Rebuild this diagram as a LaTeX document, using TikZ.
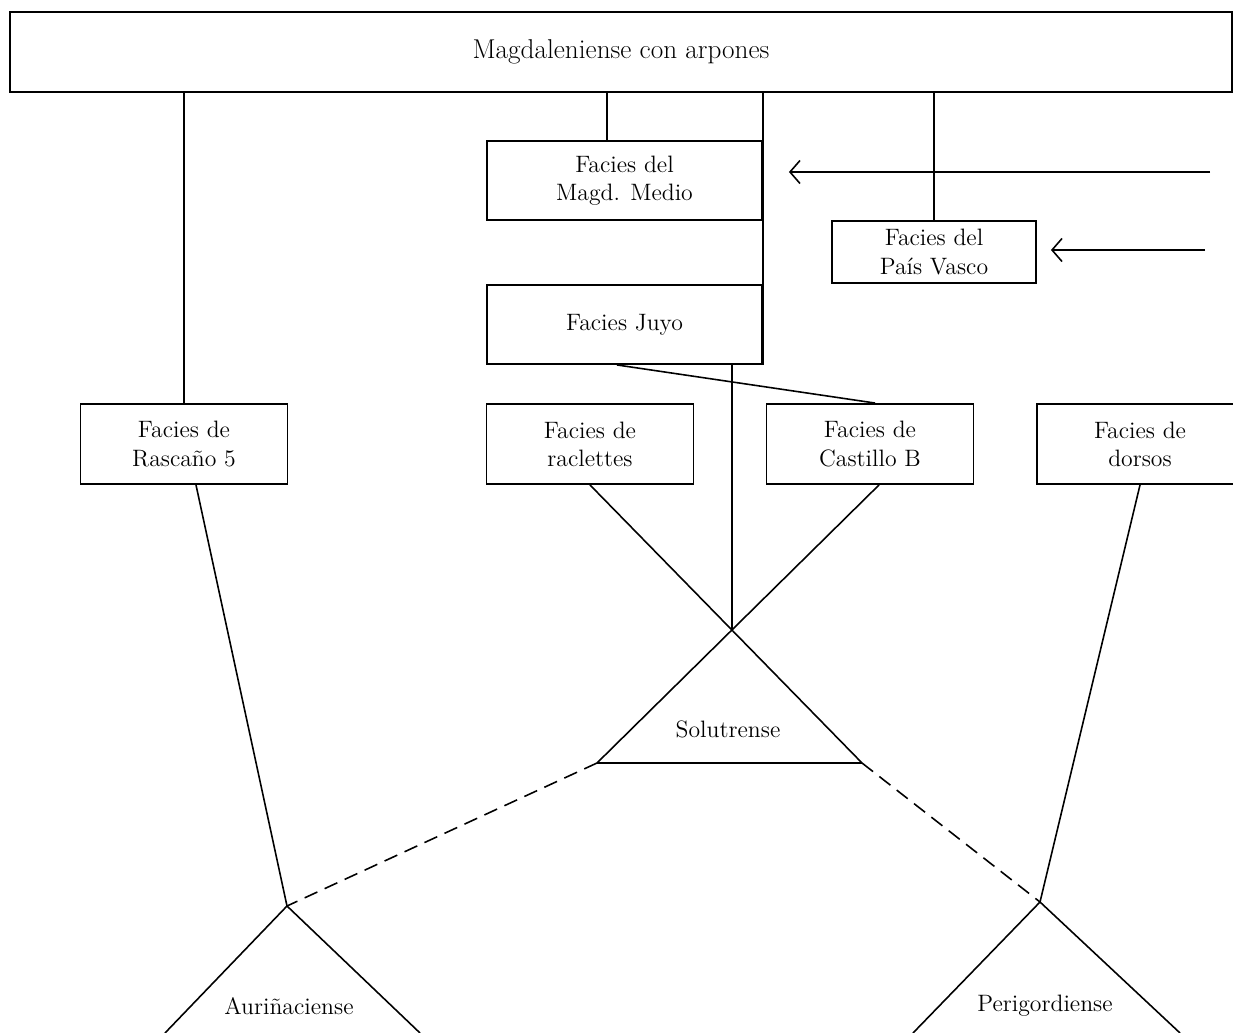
\documentclass[tikz,border=0pt]{standalone}
\usepackage{fontspec}
\usepackage{tikz}
\usetikzlibrary{arrows.meta}
\begin{document}
\begin{tikzpicture}[x=0.02cm,y=-0.02cm]
%%%%%%%%%%%%%%%%%%%%%%%%%%%%%%%%%%%%%%%%%%%%%%%%%%%%%%%%%%%%%%
%styles
\tikzstyle{box}=[rectangle,draw=black,line width=1.1pt,inner sep=0pt,align=center,font=\fontsize{13.5}{16}\selectfont]
\tikzstyle{facies}=[box,minimum width=4.14cm,minimum height=1.6cm]
\tikzstyle{culture}=[align=center,font=\fontsize{13.5}{16}\selectfont]
\tikzstyle{link}=[line width=0.9pt]
\tikzstyle{flow}=[line width=0.9pt,dash pattern=on 0.28cm off 0.16cm]
\tikzstyle{influx}=[line width=0.9pt,-{Straight Barb[length=2mm,width=4.6mm]}]
\useasboundingbox (0,0) rectangle (1233,1033);
%nodes
\node[box,minimum width=24.44cm,minimum height=1.6cm,font=\fontsize{15.5}{18}\selectfont] (magdal) at (621,52) {Magdaleniense con arpones};
\node[box,minimum width=5.5cm,minimum height=1.58cm] (medio) at (624.5,180.5) {Facies del\\Magd. Medio};
\node[box,minimum width=5.5cm,minimum height=1.58cm] (juyo) at (624.5,324.5) {Facies Juyo};
\node[box,minimum width=4.08cm,minimum height=1.24cm] (vasco) at (934,252) {Facies del\\País Vasco};
\node[facies] (rascano) at (184,444) {Facies de\\Rascaño 5};
\node[facies] (raclettes) at (590,444) {Facies de\\raclettes};
\node[facies] (castillo) at (870,444) {Facies de\\Castillo B};
\node[facies] (dorsos) at (1140,444) {Facies de\\dorsos};
%%triangles
\coordinate (solA) at (732,630);
\coordinate (solL) at (597,763);
\coordinate (solR) at (862,763);
\node[culture] (solu) at (728,729) {Solutrense};
\coordinate (aurA) at (287,906);
\coordinate (aurL) at (165,1033);
\coordinate (aurR) at (420,1033);
\node[culture] (auri) at (289,1006) {Auriñaciense};
\coordinate (perA) at (1040,902);
\coordinate (perL) at (913,1033);
\coordinate (perR) at (1180,1033);
\node[culture] (peri) at (1045,1006) {Perigordiense};
%influences
\coordinate (in1) at (1210,172);
\coordinate (in2) at (1205,250);
\coordinate (m1) at ([xshift=-0.35cm]medio.north);
%%%%%%%%%%%%%%%%%%%%%%%%%%%%%%%%%%%%%%%%%%%%%%%%%%%%%%%%%%%%%%
%LINES
\draw[link] (magdal.south -| rascano.north) -- (rascano.north);
\draw[link] (magdal.south -| m1) -- (m1);
\draw[link] (magdal.south -| medio.east) -- (juyo.south east);
\draw[link] (magdal.south -| vasco.north) -- (vasco.north);
\draw[link] ([xshift=-0.15cm]juyo.south) -- ([xshift=0.1cm]castillo.north);
\draw[link] (juyo.south -| solA) -- (solA);
\draw[link] (raclettes.south) -- (solR);
\draw[link] ([xshift=0.18cm]castillo.south) -- (solL);
\draw[link] (solL) -- (solR);
\draw[link] ([xshift=0.24cm]rascano.south) -- (aurA);
\draw[link] (aurL) -- (aurA) -- (aurR);
\draw[link] (dorsos.south) -- (perA);
\draw[link] (perL) -- (perA) -- (perR);
\draw[flow] (solL) -- (aurA);
\draw[flow] (solR) -- (perA);
%ARROWS
\draw[influx,shorten >=0.52cm] (in1) -- (in1 -| medio.east);
\draw[influx,shorten >=0.28cm] (in2) -- (in2 -| vasco.east);
\end{tikzpicture}
\end{document}
